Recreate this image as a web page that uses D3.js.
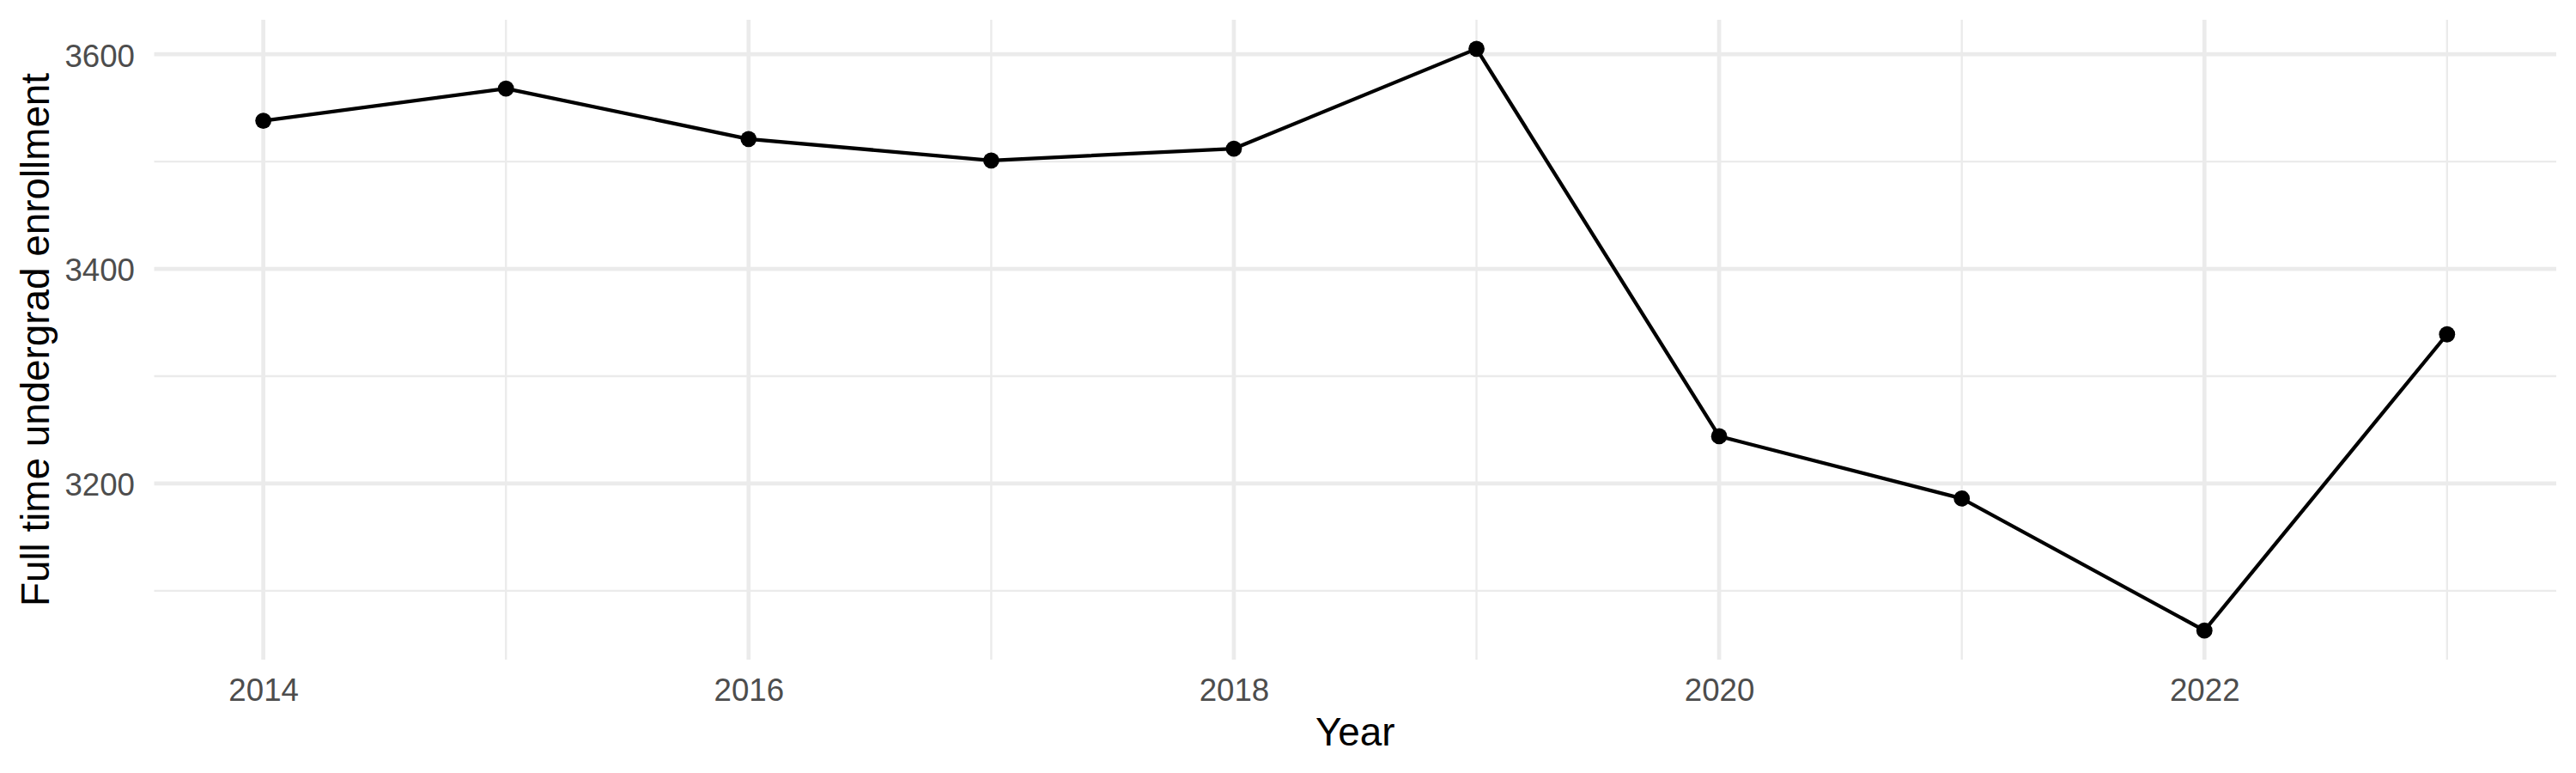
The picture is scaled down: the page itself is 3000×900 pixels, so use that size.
<!DOCTYPE html>
<html>
<head>
<meta charset="utf-8">
<script src="https://cdn.jsdelivr.net/npm/d3@7"></script>
<style>
  body { margin: 0; background: #fff; }
  svg { display: block; }
</style>
</head>
<body>
<svg id="chart"></svg>
<script>
// Full time undergrad enrollment by year.
const years = [2014, 2015, 2016, 2017, 2018, 2019, 2020, 2021, 2022, 2023];
const enrollment = [3538, 3568, 3521, 3501, 3512, 3605, 3244, 3186, 3063, 3339];

const xMajorTicks = [2014, 2016, 2018, 2020, 2022];
const xMinorTicks = [2015, 2017, 2019, 2021, 2023];
const yMajorTicks = [3200, 3400, 3600];
const yMinorTicks = [3100, 3300, 3500];

const FONT = "'Liberation Sans', Arial, Helvetica, sans-serif";
const width = 3000;
const height = 900;
// Panel box, same as ggplot's plotting area in the picture.
const margin = {top: 23, right: 23, bottom: 132, left: 179.5};
const innerWidth = width - margin.left - margin.right;
const innerHeight = height - margin.top - margin.bottom;

const data = years.map((y, i) => ({year: y, value: enrollment[i]}));

const svg = d3.select("#chart")
  .attr("width", width)
  .attr("height", height)
  .attr("font-family", FONT);

// ggplot-style 5% expansion on both scales.
const expand = (ext) => {
  const pad = (ext[1] - ext[0]) * 0.05;
  return [ext[0] - pad, ext[1] + pad];
};

const xScale = d3.scaleLinear()
  .domain(expand(d3.extent(years)))
  .range([0, innerWidth]);
const yScale = d3.scaleLinear()
  .domain(expand(d3.extent(enrollment)))
  .range([innerHeight, 0]);

const g = svg.append("g")
  .attr("transform", `translate(${margin.left}, ${margin.top})`);

// Gridlines: minor first, then major on top.

const grid = g.append("g").attr("stroke", "#ebebeb");
grid.selectAll(".yMinor").data(yMinorTicks).join("line")
  .attr("x1", 0).attr("x2", innerWidth)
  .attr("y1", (d) => yScale(d)).attr("y2", (d) => yScale(d))
  .attr("stroke-width", 2.35);
grid.selectAll(".xMinor").data(xMinorTicks).join("line")
  .attr("y1", 0).attr("y2", innerHeight)
  .attr("x1", (d) => xScale(d)).attr("x2", (d) => xScale(d))
  .attr("stroke-width", 2.35);
grid.selectAll(".yMajor").data(yMajorTicks).join("line")
  .attr("x1", 0).attr("x2", innerWidth)
  .attr("y1", (d) => yScale(d)).attr("y2", (d) => yScale(d))
  .attr("stroke-width", 4.7);
grid.selectAll(".xMajor").data(xMajorTicks).join("line")
  .attr("y1", 0).attr("y2", innerHeight)
  .attr("x1", (d) => xScale(d)).attr("x2", (d) => xScale(d))
  .attr("stroke-width", 4.7);

// Axes (labels only, no ticks or domain line).

const xAxis = d3.axisBottom(xScale)
  .tickValues(xMajorTicks)
  .tickFormat(d3.format("d"))
  .tickSize(0)
  .tickPadding(22);
const yAxis = d3.axisLeft(yScale)
  .tickValues(yMajorTicks)
  .tickFormat(d3.format("d"))
  .tickSize(0)
  .tickPadding(22.5);

const styleAxis = (sel) => {
  sel.attr("font-family", FONT).attr("font-size", 36.7);
  sel.select(".domain").remove();
  sel.selectAll(".tick line").remove();
  sel.selectAll(".tick text").attr("fill", "#4d4d4d");
};

g.append("g")
  .attr("transform", `translate(0, ${innerHeight})`)
  .call(xAxis)
  .call(styleAxis);

g.append("g")
  .call(yAxis)
  .call(styleAxis)
  .selectAll(".tick text")
  .attr("dy", "0.38em");

// Line and points.

const line = d3.line()
  .x((d) => xScale(d.year))
  .y((d) => yScale(d.value));
g.append("path")
  .datum(data)
  .attr("fill", "none")
  .attr("stroke", "#000")
  .attr("stroke-width", 4.3)
  .attr("stroke-linejoin", "round")
  .attr("d", line);
g.selectAll(".dot").data(data).join("circle")
  .attr("cx", (d) => xScale(d.year))
  .attr("cy", (d) => yScale(d.value))
  .attr("r", 9.4)
  .attr("fill", "#000");

// Axis titles.

svg.append("text")
  .attr("font-size", 45.8)
  .attr("fill", "#000")
  .attr("x", margin.left + innerWidth / 2)
  .attr("y", 868)
  .attr("text-anchor", "middle")
  .text("Year");
svg.append("text")
  .attr("font-size", 45.8)
  .attr("fill", "#000")
  .attr("transform", `translate(56.7, ${margin.top + innerHeight / 2}) rotate(-90)`)
  .attr("text-anchor", "middle")
  .text("Full time undergrad enrollment");
</script>
</body>
</html>
